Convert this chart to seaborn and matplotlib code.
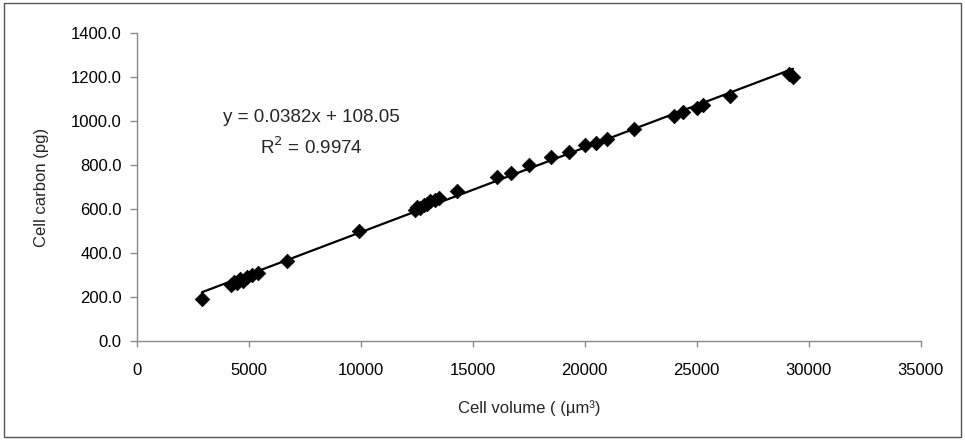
import matplotlib
matplotlib.use("Agg")
import matplotlib.pyplot as plt
import matplotlib.patches as patches
from matplotlib.ticker import FormatStrFormatter
import numpy as np
import pandas as pd
import seaborn as sns

# ------------------------- Data -------------------------
cell_volume = [2900, 4200, 4350, 4450, 4600, 4750, 4900, 5150, 5400, 6700,
               9900, 12400, 12500, 12650, 12800, 12950, 13100, 13300, 13500,
               14300, 16100, 16700, 17500, 18500, 19300, 20000, 20500, 21000,
               22200, 24000, 24400, 25000, 25300, 26500, 29100, 29300]
cell_carbon = [190, 255, 270, 262, 280, 275, 290, 298, 310, 365,
               500, 595, 610, 605, 620, 625, 635, 640, 648,
               682, 745, 762, 798, 838, 860, 890, 902, 920,
               965, 1025, 1040, 1060, 1072, 1115, 1212, 1202]

equation_text = "y = 0.0382x + 108.05"
r2_text = "R$^2$ = 0.9974"
x_ticks = list(range(0, 35001, 5000))
y_ticks = list(range(0, 1401, 200))

df = pd.DataFrame({"volume": cell_volume, "carbon": cell_carbon})

# ------------------------- Style -------------------------
sns.set_style("white")
plt.rcParams["font.family"] = ["Liberation Sans", "DejaVu Sans"]

fig = plt.figure(figsize=(9.65, 4.4), dpi=100)
ax = fig.add_axes([0.142, 0.225, 0.812, 0.70])

sns.regplot(data=df, x="volume", y="carbon", ax=ax, ci=None, color="black",
            marker="D", scatter_kws={"s": 55, "alpha": 1, "edgecolor": "black", "linewidths": 0.5},
            line_kws={"lw": 1.6})

ax.set_xlim(0, 35000)
ax.set_ylim(0, 1400)
ax.set_xticks(x_ticks)
ax.set_yticks(y_ticks)
ax.yaxis.set_major_formatter(FormatStrFormatter("%.1f"))

for side in ["top", "right"]:
    ax.spines[side].set_visible(False)
for side in ["left", "bottom"]:
    ax.spines[side].set_color("#8a8a8a")
    ax.spines[side].set_linewidth(1.0)

ax.tick_params(axis="y", direction="out", length=5, width=1, color="#8a8a8a",
               pad=6, labelsize=12, labelcolor="black")
ax.tick_params(axis="x", direction="out", length=4, width=1, color="#8a8a8a",
               pad=12, labelsize=12, labelcolor="black")
ax.tick_params(left=True, bottom=True)

ax.set_xlabel("Cell volume ( (µm³)", fontsize=12, labelpad=16)
ax.set_ylabel("Cell carbon (pg)", fontsize=12, labelpad=16)

ax.text(7770, 1018, equation_text, ha="center", va="center", fontsize=13.5)
ax.text(7770, 882, r2_text, ha="center", va="center", fontsize=13.5)

# outer frame around the whole picture
fig.patches.append(patches.Rectangle((0.004, 0.006), 0.992, 0.988, transform=fig.transFigure,
                                     fill=False, edgecolor="#555555", linewidth=1.0))

fig.savefig("out.png", dpi=100)
plt.close(fig)
